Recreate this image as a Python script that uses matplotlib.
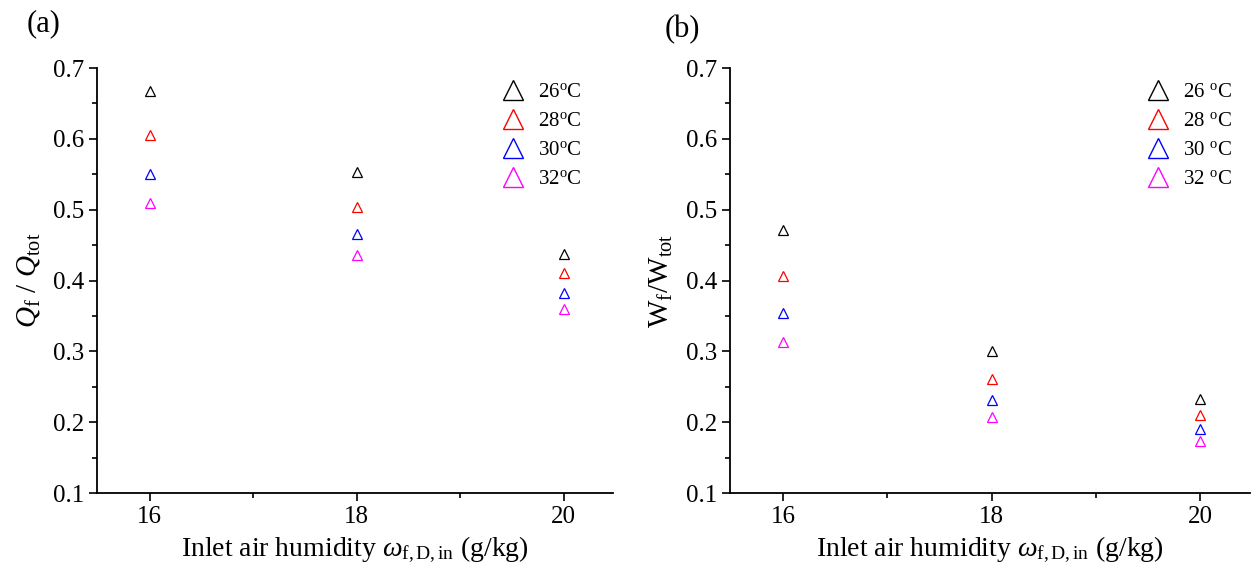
import numpy as np
import matplotlib
matplotlib.use('Agg')
import matplotlib.pyplot as plt
from matplotlib.ticker import MultipleLocator

plt.rcParams['font.family'] = 'Liberation Serif'
plt.rcParams['mathtext.fontset'] = 'custom'
plt.rcParams['mathtext.rm'] = 'Liberation Serif'
plt.rcParams['mathtext.it'] = 'Liberation Serif:italic'

humidity = [16, 18, 20]
temps = ['26', '28', '30', '32']
colors = ['black', 'red', 'blue', 'magenta']

# Q_f / Q_tot for each inlet temperature
q_ratio = [
    [0.668, 0.553, 0.438],
    [0.605, 0.504, 0.411],
    [0.550, 0.466, 0.382],
    [0.510, 0.436, 0.360],
]

# W_f / W_tot for each inlet temperature
w_ratio = [
    [0.472, 0.301, 0.233],
    [0.407, 0.261, 0.210],
    [0.354, 0.231, 0.190],
    [0.313, 0.208, 0.174],
]

fig = plt.figure(figsize=(12.54, 5.73), dpi=100)
ax1 = fig.add_axes([0.0774, 0.1396, 0.4116, 0.7416])
ax2 = fig.add_axes([0.5822, 0.1396, 0.4148, 0.7416])


def setup(ax, data, ylabel, sep, leg_x):
    for i in range(4):
        ax.plot(humidity, data[i], linestyle='none', marker='^', markersize=7,
                markerfacecolor='none', markeredgecolor=colors[i], markeredgewidth=0.9)
    # bigger markers in the legend
    handles = [plt.Line2D([], [], linestyle='none', marker='^', markersize=14,
                          markerfacecolor='none', markeredgecolor=c, markeredgewidth=1.0)
               for c in colors]
    labels = [t + sep + r'$^{\rm o}$C' for t in temps]
    ax.legend(handles, labels, loc='upper right', bbox_to_anchor=(leg_x, 1.01),
              frameon=False, fontsize=15, handletextpad=0.6, labelspacing=0.45,
              handlelength=1.2)
    ax.set_xlim(15.49, 20.48)
    ax.set_ylim(0.1, 0.7)
    ax.xaxis.set_major_locator(MultipleLocator(2))
    ax.xaxis.set_minor_locator(MultipleLocator(1))
    ax.yaxis.set_major_locator(MultipleLocator(0.1))
    ax.yaxis.set_minor_locator(MultipleLocator(0.05))
    ax.spines['top'].set_visible(False)
    ax.spines['right'].set_visible(False)
    ax.spines['left'].set_linewidth(1.3)
    ax.spines['bottom'].set_linewidth(1.3)
    ax.tick_params(which='major', direction='out', length=6, width=1.2, labelsize=18)
    ax.tick_params(which='minor', direction='out', length=3.5, width=1.2)
    ax.set_xlabel(r'Inlet air humidity $\omega_{\rm f,D,in}$ (g/kg)', fontsize=20, labelpad=5)
    ax.set_ylabel(ylabel, fontsize=21, labelpad=8)


setup(ax1, q_ratio, r'$Q_{\rm f}$ / $Q_{\rm tot}$', '', 0.975)
setup(ax2, w_ratio, r'$\rm W_{f}/W_{tot}$', ' ', 1.0)

fig.text(0.021, 0.958, '(a)', fontsize=22, va='center')
fig.text(0.530, 0.948, '(b)', fontsize=22, va='center')

fig.savefig('out.png', dpi=100)
